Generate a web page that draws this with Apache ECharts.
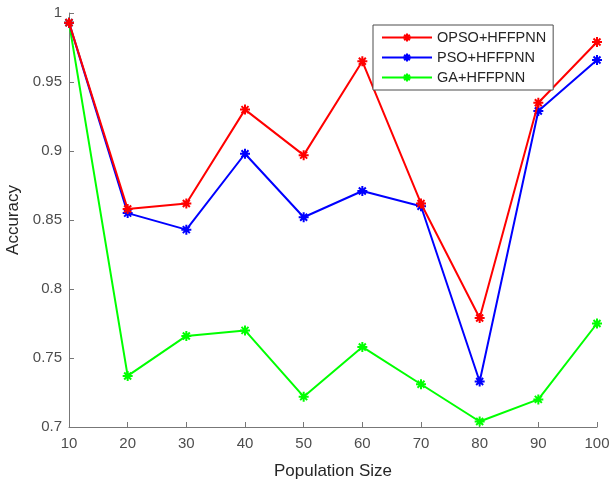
<!DOCTYPE html>
<html><head><meta charset="utf-8">
<script src="https://cdn.jsdelivr.net/npm/echarts@6/dist/echarts.min.js"></script>
<style>html,body{margin:0;padding:0;background:#fff}#c{width:609px;height:482px}</style>
</head><body><div id="c"></div>
<script>
const populationSizes = [10, 20, 30, 40, 50, 60, 70, 80, 90, 100];
const opsoHffpnn = [0.993, 0.858, 0.862, 0.930, 0.897, 0.965, 0.862, 0.779, 0.935, 0.979];
const psoHffpnn  = [0.993, 0.855, 0.843, 0.898, 0.852, 0.871, 0.860, 0.733, 0.929, 0.966];
const gaHffpnn   = [0.993, 0.737, 0.766, 0.770, 0.722, 0.758, 0.731, 0.704, 0.720, 0.775];
const seriesNames = ['OPSO+HFFPNN', 'PSO+HFFPNN', 'GA+HFFPNN'];
const seriesColors = ['#ff0000', '#0000ff', '#00ff00'];

const star = 'path://M0,5L10,5M5,0L5,10M1.5,1.5L8.5,8.5M8.5,1.5L1.5,8.5';
const font = 'Liberation Sans, Arial, sans-serif';
const pair = arr => populationSizes.map((x, i) => [x, arr[i]]);

const chart = echarts.init(document.getElementById('c'));
chart.setOption({
  animation: false,
  backgroundColor: '#fff',
  grid: { left: 69, right: 12, top: 13, bottom: 55, containLabel: false, outerBoundsMode: 'none' },
  legend: {
    orient: 'vertical', left: 373, top: 25,
    itemWidth: 50, itemHeight: 10, itemGap: 5,
    padding: [5, 7, 5, 8],
    backgroundColor: '#fff', borderColor: '#4d4d4d', borderWidth: 1,
    textStyle: { fontFamily: font, fontSize: 14.5, color: '#262626' },
    data: seriesNames
  },
  xAxis: {
    type: 'value', min: 10, max: 100, interval: 10,
    name: 'Population Size', nameLocation: 'middle', nameGap: 36,
    nameTextStyle: { fontFamily: font, fontSize: 17, color: '#262626' },
    axisLine: { lineStyle: { color: '#777', width: 1 } },
    axisTick: { inside: true, length: 5, lineStyle: { color: '#777' } },
    axisLabel: { fontFamily: font, fontSize: 15, color: '#4d4d4d', margin: 9 },
    splitLine: { show: false }
  },
  yAxis: {
    type: 'value', min: 0.7, max: 1, interval: 0.05,
    name: 'Accuracy', nameLocation: 'middle', nameGap: 45,
    nameTextStyle: { fontFamily: font, fontSize: 17, color: '#262626' },
    axisLine: { show: true, lineStyle: { color: '#777', width: 1 } },
    axisTick: { show: true, inside: true, length: 5, lineStyle: { color: '#777' } },
    axisLabel: { fontFamily: font, fontSize: 15, color: '#4d4d4d', margin: 7,
      formatter: v => String(+v.toFixed(2)) },
    splitLine: { show: false }
  },
  series: [opsoHffpnn, psoHffpnn, gaHffpnn].map((arr, i) => ({
    name: seriesNames[i], type: 'line', data: pair(arr),
    symbol: star, symbolSize: 10, showSymbol: true,
    lineStyle: { color: seriesColors[i], width: 2 },
    itemStyle: { color: seriesColors[i], borderColor: seriesColors[i], borderWidth: 2 },
    z: 3 - i
  }))
});
</script></body></html>
